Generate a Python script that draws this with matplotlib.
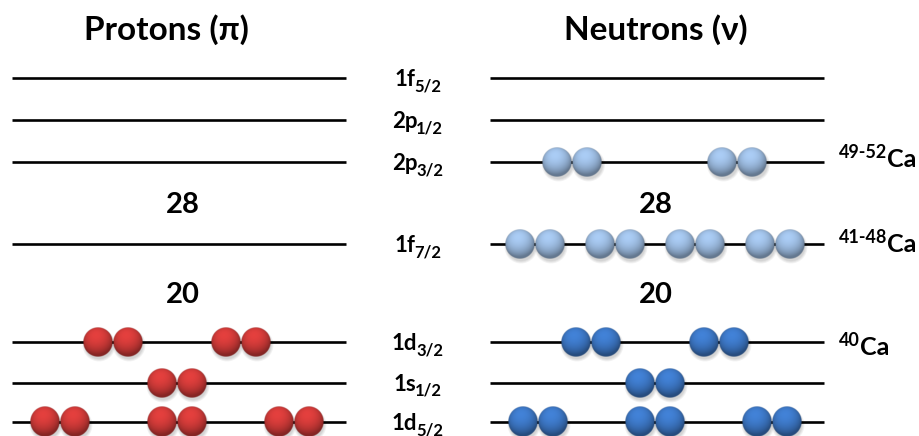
import numpy as np
import matplotlib
matplotlib.use("Agg")
import matplotlib.pyplot as plt

# shell-model levels, listed top to bottom
level_names = ['1f', '2p', '2p', '1f', '1d', '1s', '1d']
level_j = ['5/2', '1/2', '3/2', '7/2', '3/2', '1/2', '5/2']

# filled nucleon pairs per level
proton_pairs = [0, 0, 0, 0, 2, 1, 3]
neutron_pairs = [0, 0, 2, 4, 2, 1, 3]

magic_numbers = [28, 20]
isotope_labels = ['49-52', '41-48', '40']
isotope_levels = [2, 3, 4]

# layout (pixel coordinates)
level_y = [78, 120, 162, 244, 342, 383, 422]
magic_y = [203, 293]
pair_spacing = [0, 0, 165, 80, 128, 0, 117]
isotope_baseline = [5, 8, 13]
proton_x = (12, 346)
neutron_x = (490, 824)
ball_r = 15

FONT = ['Lato', 'DejaVu Sans']
RED = np.array([214, 60, 58]) / 255
BLUE = np.array([62, 122, 202]) / 255
LIGHT_BLUE = np.array([160, 192, 230]) / 255

fig = plt.figure(figsize=(9.2, 4.36), dpi=100)
ax = fig.add_axes([0, 0, 1, 1])
ax.set_xlim(0, 920)
ax.set_ylim(436, 0)
ax.axis('off')


def ball_image(color, n=80):
    v, u = np.mgrid[-1:1:n * 1j, -1:1:n * 1j]
    r2 = u ** 2 + v ** 2
    nz = np.sqrt(np.clip(1 - r2, 0, 1))
    light = np.array([-0.15, -0.55, 0.82])
    light = light / np.linalg.norm(light)
    diffuse = np.clip(u * light[0] + v * light[1] + nz * light[2], 0, 1)
    shade = 0.66 + 0.42 * diffuse
    rim = 0.8 + 0.2 * nz ** 0.35
    rgb = np.clip(color[None, None, :] * (shade * rim)[..., None], 0, 1)
    alpha = np.clip((1 - np.sqrt(r2)) * n / 2.2, 0, 1)
    return np.dstack([rgb, alpha])


def draw_ball(cx, cy, color):
    # soft shadow under the ball
    for k in range(4):
        ax.add_patch(plt.Circle((cx + 1, cy + 3), ball_r + 1.5 - k * 0.8,
                                color='black', alpha=0.045, lw=0, zorder=2))
    ax.imshow(ball_image(color), extent=(cx - ball_r, cx + ball_r, cy + ball_r, cy - ball_r),
              origin='upper', interpolation='bilinear', zorder=3)


def draw_pairs(x0, y, n_pairs, spacing, color):
    center = x0 + 165
    for k in range(n_pairs):
        pc = center + (k - (n_pairs - 1) / 2) * spacing
        draw_ball(pc - ball_r, y, color)
        draw_ball(pc + ball_r, y, color)


for i, y in enumerate(level_y):
    ax.plot(proton_x, [y, y], color='black', lw=1.9, zorder=1, solid_capstyle='butt')
    ax.plot(neutron_x, [y, y], color='black', lw=1.9, zorder=1, solid_capstyle='butt')
    draw_pairs(proton_x[0], y, proton_pairs[i], pair_spacing[i], RED)
    ncolor = LIGHT_BLUE if i < 4 else BLUE
    draw_pairs(neutron_x[0], y, neutron_pairs[i], pair_spacing[i], ncolor)

ax.text(166, 40, 'Protons (π)', family=FONT, fontweight='bold', fontsize=24,
        ha='center', va='baseline')
ax.text(656, 40, 'Neutrons (ν)', family=FONT, fontweight='bold', fontsize=24,
        ha='center', va='baseline')

for m, y in zip(magic_numbers, magic_y):
    for xc in (183, 656):
        ax.text(xc, y + 10, str(m), family=FONT, fontweight='bold', fontsize=21,
                ha='center', va='baseline')

fig.canvas.draw()
renderer = fig.canvas.get_renderer()
inv = ax.transData.inverted()


def text_width(t):
    bb = t.get_window_extent(renderer)
    (x0, _), (x1, _) = inv.transform([[bb.x0, bb.y0], [bb.x1, bb.y1]])
    return x1 - x0


# orbital labels with subscripts, centred between the two columns
for name, j, y in zip(level_names, level_j, level_y):
    main = ax.text(0, y + 8, name, family=FONT, fontweight='bold', fontsize=16,
                   ha='left', va='baseline')
    sub = ax.text(0, y + 13, j, family=FONT, fontweight='bold', fontsize=12,
                  ha='left', va='baseline')
    w_main = text_width(main)
    w_sub = text_width(sub)
    x_start = 418 - (w_main + w_sub) / 2
    main.set_x(x_start)
    sub.set_x(x_start + w_main - 1)

# calcium isotope labels with mass-number superscripts
for mass, li, dy in zip(isotope_labels, isotope_levels, isotope_baseline):
    y = level_y[li] + dy
    sup = ax.text(839, y - 9, mass, family=FONT, fontweight='bold', fontsize=13,
                  ha='left', va='baseline')
    ax.text(839 + text_width(sup), y, 'Ca', family=FONT, fontweight='bold',
            fontsize=18, ha='left', va='baseline')

fig.savefig('out.png', dpi=100)
